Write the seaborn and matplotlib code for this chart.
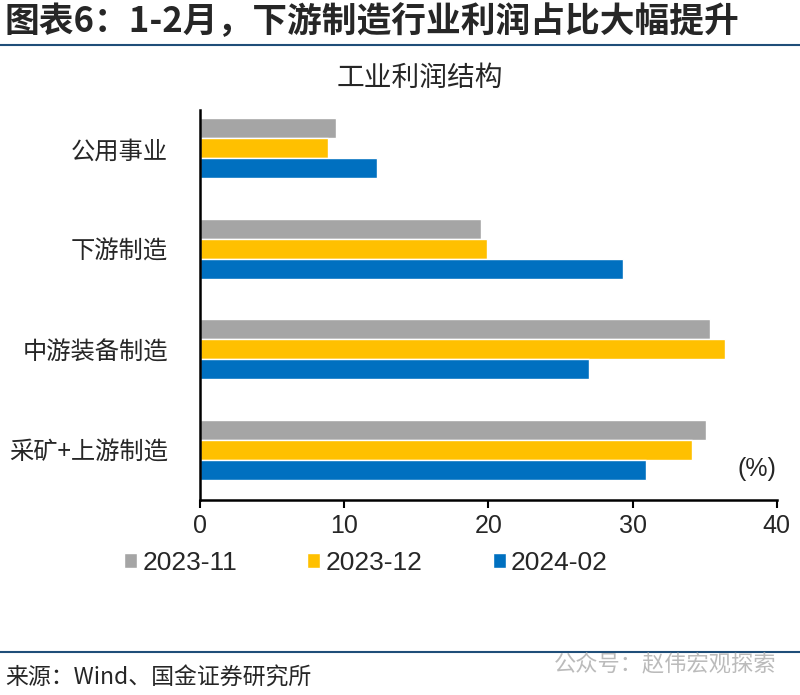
import numpy as np
import pandas as pd
import matplotlib
matplotlib.use('Agg')
import matplotlib.pyplot as plt
from matplotlib.lines import Line2D
import seaborn as sns

# 数据（从图上读取，单位 %）
categories = ['公用事业', '下游制造', '中游装备制造', '采矿+上游制造']
months = ['2023-11', '2023-12', '2024-02']
share_2023_11 = [9.4, 19.5, 35.4, 35.1]
share_2023_12 = [8.9, 19.9, 36.4, 34.1]
share_2024_02 = [12.3, 29.3, 27.0, 30.9]
colors = ['#A5A5A5', '#FFC000', '#0070C0']

df = pd.DataFrame({
    'category': categories * 3,
    'month': np.repeat(months, len(categories)),
    'value': share_2023_11 + share_2023_12 + share_2024_02,
})

sns.set_theme(style='white')
plt.rcParams['font.family'] = ['Noto Sans CJK SC', 'DejaVu Sans']

fig = plt.figure(figsize=(8, 6.95), dpi=100)
ax = fig.add_axes([0.25, 1 - 500 / 695, 0.971 - 0.25, (500 - 110) / 695])

sns.barplot(data=df, y='category', x='value', hue='month', order=categories,
            hue_order=months, palette=colors, width=0.6, saturation=1,
            orient='h', ax=ax, legend=True)

ax.set_xlim(0, 40)
ax.set_ylim(3.5, -0.38)
ax.set_xticks([0, 10, 20, 30, 40])
ax.set_xlabel('')
ax.set_ylabel('')
num_font = ['Liberation Sans', 'DejaVu Sans']
for lab in ax.get_xticklabels():
    lab.set_fontfamily(num_font)
    lab.set_fontsize(18)
ax.tick_params(axis='x', which='both', bottom=True, length=6, width=1.5,
               color='black', direction='out', pad=4)
ax.tick_params(axis='y', left=False, labelsize=17.5, pad=17)
for sp in ['top', 'right']:
    ax.spines[sp].set_visible(False)
for sp in ['left', 'bottom']:
    ax.spines[sp].set_color('black')
    ax.spines[sp].set_linewidth(1.8)

ax.text(1.0, 0.08, '(%)', transform=ax.transAxes, ha='right', va='center',
        fontsize=18, family=num_font)

handles, labels = ax.get_legend_handles_labels()
ax.legend(handles, labels, loc='center', bbox_to_anchor=(0.4575, 1 - 563 / 695),
          bbox_transform=fig.transFigure, ncol=3, frameon=False,
          prop={'family': num_font, 'size': 19}, handlelength=0.5,
          handleheight=0.5, handletextpad=0.2, columnspacing=2.65)

fig.text(420 / 800, 1 - 78 / 695, '工业利润结构', fontsize=20,
         ha='center', va='center')

fig.text(0.006, 1 - 22 / 695, '图表6：1-2月，下游制造行业利润占比大幅提升',
         fontsize=25, fontweight='bold', va='center', ha='left')
fig.add_artist(Line2D([0, 1], [1 - 45 / 695] * 2, transform=fig.transFigure,
                      color='#1F4E79', lw=1.5))
fig.add_artist(Line2D([0, 1], [1 - 652 / 695] * 2, transform=fig.transFigure,
                      color='#1F4E79', lw=1.5))
fig.text(0.006, 1 - 678 / 695, '来源：Wind、国金证券研究所', fontsize=16.5,
         va='center', ha='left')
fig.text(0.97, 1 - 665 / 695, '公众号：赵伟宏观探索', fontsize=16,
         va='center', ha='right', color='#BBBBBB')

fig.savefig('out.png', dpi=100)
